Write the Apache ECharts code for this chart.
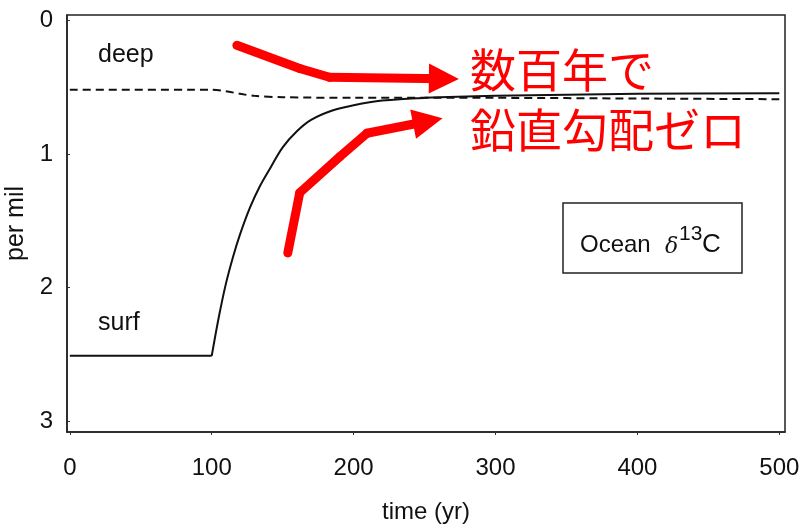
<!DOCTYPE html>
<html>
<head>
<meta charset="utf-8">
<script src="https://cdn.jsdelivr.net/npm/echarts@6/dist/echarts.min.js"></script>
<style>
  html, body { margin: 0; padding: 0; background: #fff; }
  #chart { width: 802px; height: 525px; }
</style>
</head>
<body>
<div id="chart"></div>
<script>
// Time axis (years) and ocean delta-13C (per mil) for the two boxes
const surfTime  = [0, 100, 105, 110, 115, 120, 127, 134, 141, 150, 160, 170, 185, 200, 220, 250, 300, 400, 500];
const surfValue = [2.51, 2.51, 2.22, 1.97, 1.77, 1.60, 1.40, 1.24, 1.11, 0.95, 0.83, 0.745, 0.675, 0.635, 0.60, 0.58, 0.565, 0.55, 0.545];
const deepTime  = [0, 100, 110, 120, 130, 150, 200, 300, 400, 500];
const deepValue = [0.52, 0.52, 0.53, 0.55, 0.565, 0.575, 0.58, 0.58, 0.585, 0.59];
const xTicks = [0, 100, 200, 300, 400, 500];
const yTicks = [0, 1, 2, 3];
const surfOnset = 1; // index where the surface value starts to rise

// Red annotation arrows (time, per mil); the last point is the arrow head
const arrowUpper = [[117.7, 0.187], [162, 0.36], [183, 0.426], [263.6, 0.437]];
const arrowLower = [[153.6, 1.74], [162, 1.29], [190.3, 1.02], [209.3, 0.845], [252.3, 0.755]];

const FONT = '"Liberation Sans", Arial, sans-serif';
const JP = '"Noto Sans CJK JP", sans-serif';

const zip = (xs, ys) => xs.map((x, i) => [x, ys[i]]);
const surfPts = zip(surfTime, surfValue);

// split a path into segments; only the final one carries a head
function arrowSegments(path) {
  const segs = [];
  for (let i = 0; i < path.length - 1; i++) {
    const last = i === path.length - 2;
    segs.push({
      coords: [path[i], path[i + 1]],
      symbol: last ? ['none', 'triangle'] : ['none', 'none'],
      symbolSize: last ? [28, 30] : 0
    });
  }
  return segs;
}

const surfStyle = { color: '#111', width: 2 };

const chart = echarts.init(document.getElementById('chart'));
chart.setOption({
  animation: false,
  backgroundColor: '#fff',
  grid: {
    left: 67, right: 17, top: 15, bottom: 93,
    containLabel: false, outerBoundsMode: 'none',
    show: true, borderColor: '#222', borderWidth: 1.5, backgroundColor: 'transparent'
  },
  xAxis: {
    type: 'value', min: -2, max: 504,
    name: 'time (yr)', nameLocation: 'middle', nameGap: 68,
    nameTextStyle: { fontFamily: FONT, fontSize: 24, color: '#111' },
    axisLine: { show: true, onZero: false, lineStyle: { color: '#222', width: 1.5 } },
    axisTick: { show: true, length: 3, customValues: xTicks, lineStyle: { color: '#333' } },
    axisLabel: { customValues: xTicks, margin: 24, fontFamily: FONT, fontSize: 24, color: '#111' },
    splitLine: { show: false }
  },
  yAxis: {
    type: 'value', min: -0.04, max: 3.08, inverse: true,
    name: 'per mil', nameLocation: 'middle', nameGap: 26, nameRotate: 90,
    nameTextStyle: { fontFamily: FONT, fontSize: 25, color: '#111' },
    axisLine: { show: true, onZero: false, lineStyle: { color: '#222', width: 1.5 } },
    axisTick: { show: true, inside: true, length: 3, customValues: yTicks, lineStyle: { color: '#333' } },
    axisLabel: { customValues: yTicks, margin: 14, fontFamily: FONT, fontSize: 24, color: '#111' },
    splitLine: { show: false }
  },
  series: [
    {
      name: 'deep', type: 'line', data: zip(deepTime, deepValue),
      showSymbol: false, smooth: 0.3,
      lineStyle: { color: '#111', width: 2, type: [8, 5] }
    },
    // surface: flat pre-perturbation part, then the smooth recovery
    {
      name: 'surf', type: 'line', data: surfPts.slice(0, surfOnset + 1),
      showSymbol: false, lineStyle: surfStyle
    },
    {
      name: 'surf', type: 'line', data: surfPts.slice(surfOnset),
      showSymbol: false, smooth: 0.35, lineStyle: surfStyle
    },
    {
      type: 'lines', coordinateSystem: 'cartesian2d',
      symbol: 'none',
      lineStyle: { color: '#ff0000', width: 9, opacity: 1, cap: 'round', join: 'round', curveness: 0 },
      itemStyle: { color: '#ff0000' },
      data: arrowSegments(arrowUpper).concat(arrowSegments(arrowLower)),
      z: 5
    }
  ],
  graphic: [
    { type: 'text', left: 98, top: 43, style: { text: 'deep', font: '25px ' + FONT, fill: '#111' } },
    { type: 'text', left: 98, top: 311, style: { text: 'surf', font: '25px ' + FONT, fill: '#111' } },
    { type: 'text', left: 470, top: 47, style: { text: '数百年で', font: '46px ' + JP, fill: '#ff0000' } },
    { type: 'text', left: 470, top: 107, style: { text: '鉛直勾配ゼロ', font: '46px ' + JP, fill: '#ff0000' } },
    {
      type: 'rect', shape: { x: 563, y: 203, width: 179, height: 70 },
      style: { fill: '#fff', stroke: '#222', lineWidth: 1.5 }, z: 10
    },
    { type: 'text', x: 580, y: 245, z: 11, style: { text: 'Ocean', font: '24px ' + FONT, fill: '#111', verticalAlign: 'middle' } },
    { type: 'text', x: 665, y: 247, z: 11, style: { text: 'δ', font: 'italic 22px "DejaVu Serif", serif', fill: '#111', verticalAlign: 'middle' } },
    { type: 'text', x: 679, y: 234, z: 11, style: { text: '13', font: '21px ' + FONT, fill: '#111', verticalAlign: 'middle' } },
    { type: 'text', x: 702, y: 245, z: 11, style: { text: 'C', font: '26px ' + FONT, fill: '#111', verticalAlign: 'middle' } }
  ]
});
</script>
</body>
</html>
